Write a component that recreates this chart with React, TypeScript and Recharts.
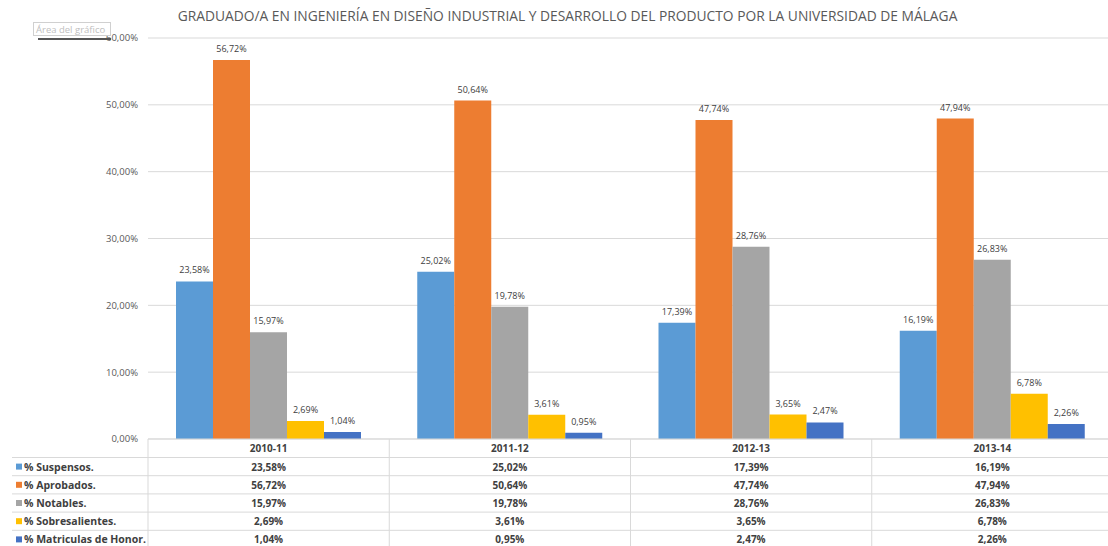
import React from 'react';
import { BarChart, Bar, XAxis, YAxis, CartesianGrid, LabelList } from 'recharts';

const categories = ['2010-11', '2011-12', '2012-13', '2013-14'];
const suspensos = [23.58, 25.02, 17.39, 16.19];
const aprobados = [56.72, 50.64, 47.74, 47.94];
const notables = [15.97, 19.78, 28.76, 26.83];
const sobresalientes = [2.69, 3.61, 3.65, 6.78];
const matriculas = [1.04, 0.95, 2.47, 2.26];
const yTicks = [0, 10, 20, 30, 40, 50, 60];

const series = [
  { key: 'suspensos', name: '% Suspensos.', color: '#5B9BD5', values: suspensos },
  { key: 'aprobados', name: '% Aprobados.', color: '#ED7D31', values: aprobados },
  { key: 'notables', name: '% Notables.', color: '#A5A5A5', values: notables },
  { key: 'sobresalientes', name: '% Sobresalientes.', color: '#FFC000', values: sobresalientes },
  { key: 'matriculas', name: '% Matriculas de Honor.', color: '#4472C4', values: matriculas },
];

const data = categories.map((cat, i) => {
  const row: Record<string, any> = { cat };
  series.forEach((s) => (row[s.key] = s.values[i]));
  return row;
});

const W = 1108;
const H = 546;
const PLOT_LEFT = 148;
const PLOT_RIGHT = 1113;
const PLOT_BOTTOM = 439;
const HEADER_H = 18.5;
const ROW_H = 18.2;
const GRID = '#D9D9D9';
const FONT = '"Open Sans", sans-serif';

const fmt = (v: number) => v.toFixed(2).replace('.', ',') + '%';

// draws one column of the data table under each category
const TableColumn = ({ x, payload, index }: any) => {
  const colW = (PLOT_RIGHT - PLOT_LEFT) / categories.length;
  const left = x - colW / 2;
  const rowTop = (r: number) => PLOT_BOTTOM + HEADER_H + r * ROW_H;
  return (
    <g fontFamily={FONT}>
      {index === 0 && (
        <g>
          {series.map((s, r) => (
            <g key={s.key}>
              <line x1={12} x2={left} y1={rowTop(r)} y2={rowTop(r)} stroke={GRID} />
              <rect x={16} y={rowTop(r) + ROW_H / 2 - 3} width={6} height={6} fill={s.color} />
              <text x={24} y={rowTop(r) + ROW_H / 2} dominantBaseline="central" fontSize={10.5} fontWeight="bold" fill="#404040">
                {s.name}
              </text>
            </g>
          ))}
        </g>
      )}
      <line x1={left} x2={left} y1={PLOT_BOTTOM} y2={H} stroke={GRID} />
      {series.map((s, r) => (
        <line key={s.key} x1={left} x2={left + colW} y1={rowTop(r)} y2={rowTop(r)} stroke={GRID} />
      ))}
      <text x={x} y={PLOT_BOTTOM + HEADER_H / 2} dominantBaseline="central" textAnchor="middle" fontSize={10} fontWeight="bold" fill="#404040">
        {payload.value}
      </text>
      {series.map((s, r) => (
        <text key={s.key} x={x} y={rowTop(r) + ROW_H / 2} dominantBaseline="central" textAnchor="middle" fontSize={10} fontWeight="bold" fill="#404040">
          {fmt(s.values[index])}
        </text>
      ))}
    </g>
  );
};

export default function App() {
  return (
    <div style={{ position: 'absolute', left: 0, top: 0, width: W, height: H, background: '#fff', overflow: 'hidden', fontFamily: FONT }}>
      <div style={{ position: 'absolute', left: 0, width: 1135, top: 6, textAlign: 'center', fontSize: 13.8, color: '#595959', whiteSpace: 'nowrap' }}>
        GRADUADO/A EN INGENIERÍA EN DISEÑO INDUSTRIAL Y DESARROLLO DEL PRODUCTO POR LA UNIVERSIDAD DE MÁLAGA
      </div>
      <BarChart
        width={W}
        height={H}
        data={data}
        margin={{ top: 38, right: W - PLOT_RIGHT, left: 0, bottom: 0 }}
        barCategoryGap={28}
        barGap={0}
      >
        <CartesianGrid vertical={false} stroke={GRID} />
        <XAxis
          dataKey="cat"
          height={H - PLOT_BOTTOM}
          interval={0}
          tickLine={false}
          axisLine={{ stroke: GRID }}
          tick={<TableColumn />}
        />
        <YAxis
          width={PLOT_LEFT}
          domain={[0, 60]}
          ticks={yTicks}
          axisLine={false}
          tickLine={false}
          tickSize={0}
          tickMargin={10}
          tickFormatter={fmt}
          tick={{ fontSize: 9.5, fill: '#595959', fontFamily: FONT }}
        />
        {series.map((s) => (
          <Bar key={s.key} dataKey={s.key} name={s.name} fill={s.color} isAnimationActive={false}>
            <LabelList dataKey={s.key} position="top" offset={8} formatter={(v: any) => fmt(Number(v))} style={{ fontSize: 9, fill: '#404040', fontFamily: FONT }} />
          </Bar>
        ))}
      </BarChart>
      <div style={{ position: 'absolute', left: 33, top: 22, width: 78, height: 14, border: '1px solid #d0d0d0', background: '#fff', fontSize: 9.5, color: '#c0c0c0', lineHeight: '13px', paddingLeft: 2, boxSizing: 'border-box', whiteSpace: 'nowrap' }}>
        Área del gráfico
      </div>
      <div style={{ position: 'absolute', left: 38, top: 38, width: 73, height: 2, background: '#555' }} />
    </div>
  );
}
